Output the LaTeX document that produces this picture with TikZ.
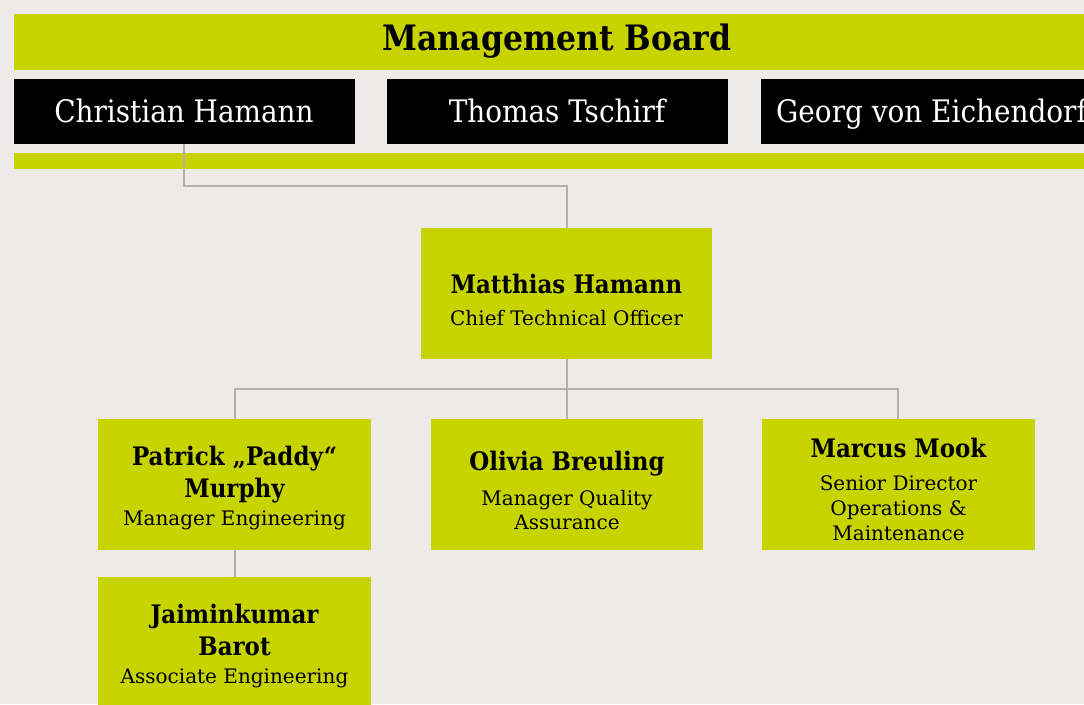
\documentclass[tikz,border=0pt]{standalone}
\usepackage{fontspec}
\setmainfont{DejaVu Serif}
\newfontfamily\condserif{DejaVu Serif Condensed}
\definecolor{lime}{HTML}{C8D400}
\definecolor{bg}{HTML}{EEEAE9}
\definecolor{conn}{HTML}{B5AFAB}
\newcommand{\mbfont}{\condserif\fontsize{35}{40}\selectfont\bfseries}
\newcommand{\blkfont}{\condserif\fontsize{31}{34}\selectfont}
\newcommand{\nmfont}{\condserif\fontsize{25.5}{30}\selectfont\bfseries}
\newcommand{\ttlfont}{\fontsize{20}{24}\selectfont}
\tikzset{
  box/.style={fill=lime, draw=none, inner sep=0pt, minimum width=273pt, minimum height=131pt},
  blk/.style={fill=black, draw=none, inner sep=0pt, minimum height=65pt},
  nm/.style={anchor=base, inner sep=0pt, font=\nmfont},
  ttl/.style={anchor=base, inner sep=0pt, font=\ttlfont},
  link/.style={draw=conn, line width=1.3pt},
}
\begin{document}
\begin{tikzpicture}[x=1pt,y=-1pt]
\useasboundingbox (0,0) rectangle (1084,704);
\clip (0,0) rectangle (1084,704);
\fill[bg] (0,0) rectangle (1084,704);
% board bar
\node[fill=lime, inner sep=0pt, minimum width=1100pt, minimum height=56pt, anchor=north west] (bar) at (14,14) {};
\node[anchor=base, inner sep=0pt, font=\mbfont] (mbt) at (557,50.5) {Management Board};
% black boxes
\node[blk, minimum width=341pt, anchor=north west] (ch) at (14,79) {};
\node[blk, minimum width=341pt, anchor=north west] (tt) at (387,79) {};
\node[blk, minimum width=360pt, anchor=north west] (ge) at (761,79) {};
\node[anchor=base, inner sep=0pt, text=white, font=\blkfont] at (184,122) {Christian Hamann};
\node[anchor=base, inner sep=0pt, text=white, font=\blkfont] at (557,122) {Thomas Tschirf};
\node[anchor=base west, inner sep=0pt, text=white, font=\blkfont] at (776,122) {Georg von Eichendorff};
% strip
\node[fill=lime, inner sep=0pt, minimum width=1100pt, minimum height=16pt, anchor=north west] (strip) at (14,153) {};
% boxes
\node[box, minimum width=291pt, anchor=north west] (cto) at (421,228) {};
\node[box, anchor=north west] (pm) at (98,419) {};
\node[box, minimum width=272pt, anchor=north west] (ob) at (431,419) {};
\node[box, anchor=north west] (mm) at (762,419) {};
\node[box, minimum height=140pt, anchor=north west] (jb) at (98,577) {};
% connectors
\coordinate (cJ) at (184,186);
\coordinate (cK) at (567,186);
\coordinate (hL) at (235,389);
\coordinate (hR) at (898,389);
\coordinate (hM) at (567,389);
\draw[link] (ch.south -| cJ) -- (cJ) -- (cK) -- (cto.north -| cK);
\draw[link] (cto.south -| hM) -- (ob.north -| hM);
\draw[link] (pm.north -| hL) -- (hL) -- (hR) -- (mm.north -| hR);
\draw[link] (pm.south -| hL) -- (jb.north -| hL);
% texts
\node[nm] at (566.5,293) {Matthias Hamann};
\node[ttl] at (566.5,325) {Chief Technical Officer};
\node[nm] at (234.5,465) {Patrick „Paddy“};
\node[nm] at (234.5,497) {Murphy};
\node[ttl] at (234.5,525) {Manager Engineering};
\node[nm] at (567,470) {Olivia Breuling};
\node[ttl] at (567,505) {Manager Quality};
\node[ttl] at (567,529) {Assurance};
\node[nm] at (898.5,457) {Marcus Mook};
\node[ttl] at (898.5,490) {Senior Director};
\node[ttl] at (898.5,515) {Operations \&};
\node[ttl] at (898.5,540) {Maintenance};
\node[nm] at (234.5,623) {Jaiminkumar};
\node[nm] at (234.5,655) {Barot};
\node[ttl] at (234.5,683) {Associate Engineering};
\end{tikzpicture}
\end{document}
